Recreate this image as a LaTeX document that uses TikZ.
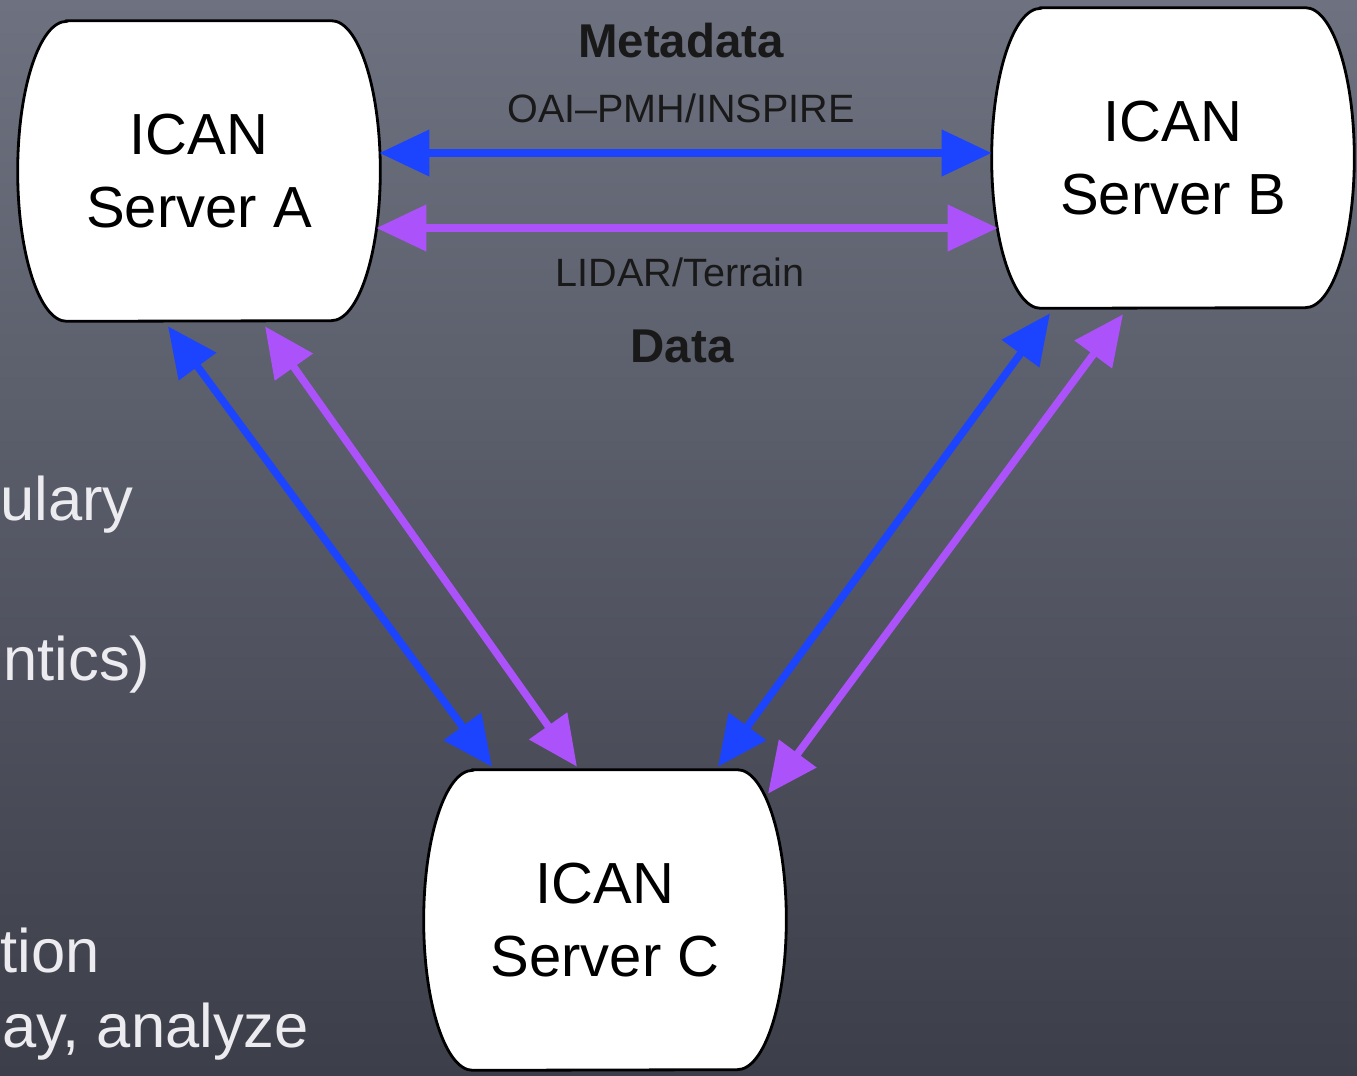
\documentclass[tikz,border=0pt]{standalone}
\usepackage{fontspec}
\setmainfont{Liberation Sans}
\usetikzlibrary{arrows.meta, positioning, calc, backgrounds}
\definecolor{slatetop}{RGB}{110,114,128}
\definecolor{slatebot}{RGB}{60,62,73}
\definecolor{metablue}{RGB}{28,68,255}
\definecolor{datapurple}{RGB}{172,82,250}
\definecolor{chalk}{RGB}{236,236,240}

\begin{document}
\begin{tikzpicture}[x=0.02cm, y=-0.02cm,
    server/.style={rectangle, minimum width=7.24cm, minimum height=6cm, inner sep=0pt, align=center, font=\fontsize{33}{42}\selectfont},
    barrel/.style={draw=black, line width=1.6pt, fill=white},
    link/.style={line width=0.15cm, {Triangle[length=1cm,width=0.9cm]}-{Triangle[length=1cm,width=0.9cm]}},
    lbl/.style={anchor=base, text=black!90, font=\fontsize{22.5}{26}\selectfont},
    boldlbl/.style={anchor=base, text=black!90, font=\fontsize{27}{30}\selectfont\bfseries},
    side/.style={anchor=base west, inner sep=0pt, text=chalk, font=\fontsize{35}{42}\selectfont}]

    \useasboundingbox (0,0) rectangle (1357,1076);

    % text of the slide behind the diagram
    \node [side] (s1) at (0,520) {ulary};
    \node [side] (s2) at (3,680) {ntics)};
    \node [side] (s3) at (0,972) {tion};
    \node [side] (s4) at (2,1047) {ay, analyze};

    \node [server] (A) at (199,171) {ICAN\\Server A};
    \node [server] (B) at (1173,158) {ICAN\\Server B};
    \node [server] (C) at (605,920) {ICAN\\Server C};

    \node [boldlbl] (meta) at (681,57) {Metadata};
    \node [lbl] (oai) at (681,122) {OAI--PMH/INSPIRE};
    \node [lbl] (lidar) at (680,286) {LIDAR/Terrain};
    \node [boldlbl] (data) at (682,362) {Data};

    \draw [link, metablue] ($(A.east)+(-1,-18)$) -- ($(B.west)+(0,-5)$);
    \draw [link, datapurple] ($(A.east)+(-4,57)$) -- ($(B.west)+(6,70)$);
    \draw [link, metablue] ($(A.south)+(-31,5)$) -- ($(C.north)+(-113,-3)$);
    \draw [link, datapurple] ($(A.south)+(66,5)$) -- ($(C.north)+(-28,-3)$);
    \draw [link, metablue] ($(B.south)+(-123,5)$) -- ($(C.north)+(113,-3)$);
    \draw [link, datapurple] ($(B.south)+(-50,6)$) -- ($(C.north)+(163,24)$);

    % slate and the server outlines go underneath
    \begin{scope}[on background layer]
        \shade[top color=slatetop, bottom color=slatebot] (0,0) rectangle (1357,1076);
        \foreach \n in {A,B,C}
            \draw [barrel] ($(\n.north west)+(49,0)$) -- ($(\n.north east)+(-49,0)$)
                arc [start angle=-90, end angle=90, x radius=49, y radius=150]
                -- ($(\n.south west)+(49,0)$)
                arc [start angle=90, end angle=270, x radius=49, y radius=150] -- cycle;
    \end{scope}
\end{tikzpicture}
\end{document}
